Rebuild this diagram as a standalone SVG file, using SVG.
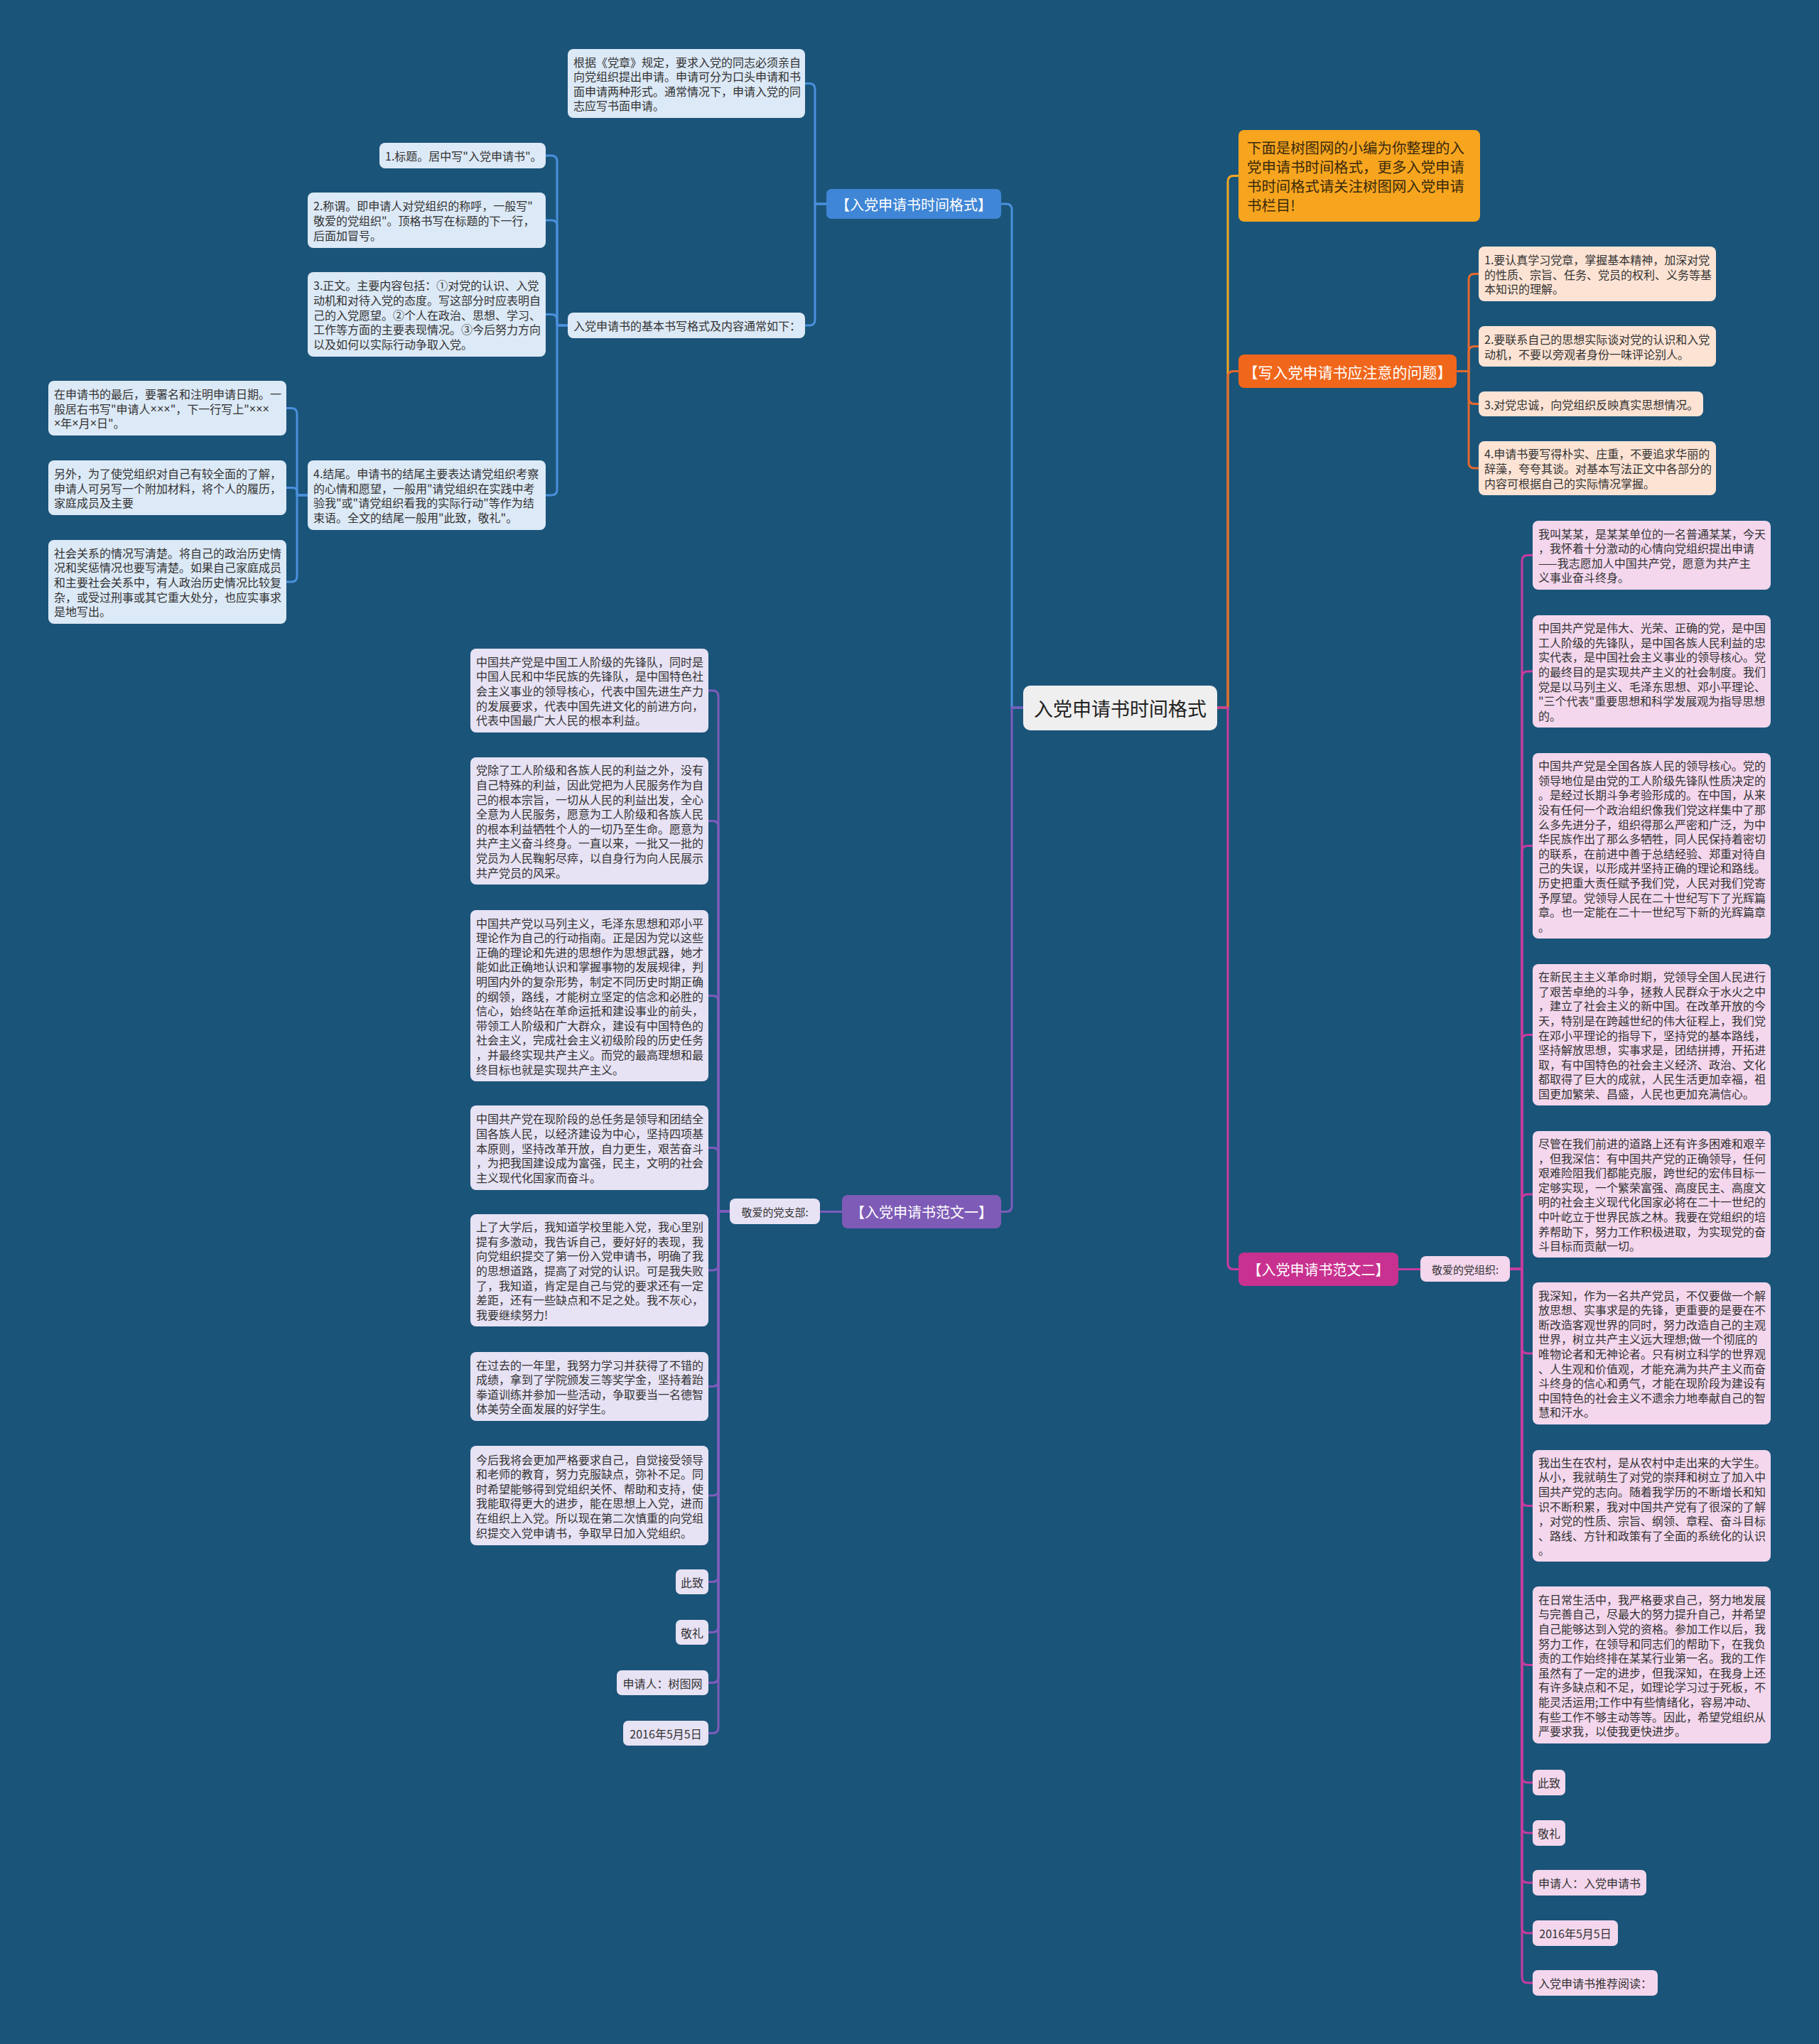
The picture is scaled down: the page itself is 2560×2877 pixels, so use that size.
<svg xmlns="http://www.w3.org/2000/svg" width="2560" height="2877" viewBox="0 0 2560 2877">
<style>
text{font-family:"Noto Sans CJK SC","Noto Sans",sans-serif;dominant-baseline:central}
.t{font-size:16px;fill:#333}
.x{font-family:"Liberation Sans","Noto Sans",sans-serif}
.lab{font-size:20px;fill:#fff;text-anchor:middle}
.sm{font-size:15px;fill:#333;text-anchor:middle}
.smc{font-size:16px;fill:#333;text-anchor:middle}
.bl{fill:#dce9f6}
.or{fill:#fde3d4}
.pk{fill:#f4d7ed}
.pu{fill:#e7e2f4}
.c{fill:none;stroke-width:3;stroke-linejoin:round}
.cb{stroke:#4a90dc}
.cpu{stroke:#7d5cbc}
.cpk{stroke:#c73c9d}
.cor{stroke:#e4692c}
.cy{stroke:#f2a623}
</style>
<rect x="0" y="0" width="2560" height="2877" fill="#1a5479"/>

<g id="connectors">
<path class="c cy" d="M1713 996 H1728 V255.5 Q1728 247.5 1736 247.5 H1743"/>
<path class="c cor" d="M1713 996 H1728 V530.5 Q1728 522.5 1736 522.5 H1743"/>
<path class="c cpk" d="M1713 996 H1728 V1778.5 Q1728 1786.5 1736 1786.5 H1743"/>
<path class="c cb" d="M1440 996 H1424 V295 Q1424 287 1416 287 H1409"/>
<path class="c cpu" d="M1440 996 H1424 V1697.5 Q1424 1705.5 1416 1705.5 H1409"/>

<path class="c cb" d="M1163 287 H1147 V125.5 Q1147 117.5 1139 117.5 H1133"/>
<path class="c cb" d="M1163 287 H1147 V450 Q1147 458 1139 458 H1133"/>
<path class="c cb" d="M799 458 H784 V227 Q784 219 776 219 H768"/>
<path class="c cb" d="M799 458 H784 V318 Q784 310 776 310 H768"/>
<path class="c cb" d="M799 458 H784 V450 Q784 442.5 776 442.5 H768"/>
<path class="c cb" d="M799 458 H784 V689 Q784 697 776 697 H768"/>
<path class="c cb" d="M433 697 H418 V582.5 Q418 574.5 410 574.5 H403"/>
<path class="c cb" d="M433 697 H418 V692.5 Q418 686.5 412 686.5 H403"/>
<path class="c cb" d="M433 697 H418 V811 Q418 819 410 819 H403"/>

<path class="c cor" d="M2050 522.5 H2067 V393.5 Q2067 385.5 2075 385.5 H2081"/>
<path class="c cor" d="M2050 522.5 H2067 V495.5 Q2067 487.5 2075 487.5 H2081"/>
<path class="c cor" d="M2050 522.5 H2067 V560.5 Q2067 568.5 2075 568.5 H2081"/>
<path class="c cor" d="M2050 522.5 H2067 V651 Q2067 659 2075 659 H2081"/>

<path class="c cpk" d="M1968 1786.5 H1999"/>
<path class="c cpk" d="M2125 1786 H2142 V789.5 Q2142 781.5 2150 781.5 H2157"/>
<path class="c cpk" d="M2125 1786 H2142 V953 Q2142 945 2150 945 H2157"/>
<path class="c cpk" d="M2125 1786 H2142 V1198.5 Q2142 1190.5 2150 1190.5 H2157"/>
<path class="c cpk" d="M2125 1786 H2142 V1464.5 Q2142 1456.5 2150 1456.5 H2157"/>
<path class="c cpk" d="M2125 1786 H2142 V1689 Q2142 1681 2150 1681 H2157"/>
<path class="c cpk" d="M2125 1786 H2142 V1897 Q2142 1905 2150 1905 H2157"/>
<path class="c cpk" d="M2125 1786 H2142 V2111.5 Q2142 2119.5 2150 2119.5 H2157"/>
<path class="c cpk" d="M2125 1786 H2142 V2335.5 Q2142 2343.5 2150 2343.5 H2157"/>
<path class="c cpk" d="M2125 1786 H2142 V2501 Q2142 2509 2150 2509 H2157"/>
<path class="c cpk" d="M2125 1786 H2142 V2572 Q2142 2580 2150 2580 H2157"/>
<path class="c cpk" d="M2125 1786 H2142 V2642 Q2142 2650 2150 2650 H2157"/>
<path class="c cpk" d="M2125 1786 H2142 V2713 Q2142 2721 2150 2721 H2157"/>
<path class="c cpk" d="M2125 1786 H2142 V2783 Q2142 2791 2150 2791 H2157"/>

<path class="c cpu" d="M1185 1705.5 H1154"/>
<path class="c cpu" d="M1027 1705 H1011 V980 Q1011 972 1003 972 H997"/>
<path class="c cpu" d="M1027 1705 H1011 V1163.5 Q1011 1155.5 1003 1155.5 H997"/>
<path class="c cpu" d="M1027 1705 H1011 V1409.5 Q1011 1401.5 1003 1401.5 H997"/>
<path class="c cpu" d="M1027 1705 H1011 V1623.5 Q1011 1615.5 1003 1615.5 H997"/>
<path class="c cpu" d="M1027 1705 H1011 V1780 Q1011 1788 1003 1788 H997"/>
<path class="c cpu" d="M1027 1705 H1011 V1943.5 Q1011 1951.5 1003 1951.5 H997"/>
<path class="c cpu" d="M1027 1705 H1011 V2097 Q1011 2105 1003 2105 H997"/>
<path class="c cpu" d="M1027 1705 H1011 V2218.5 Q1011 2226.5 1003 2226.5 H997"/>
<path class="c cpu" d="M1027 1705 H1011 V2289.5 Q1011 2297.5 1003 2297.5 H997"/>
<path class="c cpu" d="M1027 1705 H1011 V2360.5 Q1011 2368.5 1003 2368.5 H997"/>
<path class="c cpu" d="M1027 1705 H1011 V2431.5 Q1011 2439.5 1003 2439.5 H997"/>
</g>

<g id="center">
<rect x="1440" y="965" width="273" height="63" rx="10" fill="#efefef"/>
<text x="1576.5" y="996.5" style="font-size:27px;fill:#222;text-anchor:middle">入党申请书时间格式</text>
</g>

<!-- Blue branch -->
<g id="blue-label">
<rect x="1163" y="266" width="246" height="42" rx="7" fill="#3f86d6"/>
<text class="lab" x="1286" y="287">【入党申请书时间格式】</text>
</g>
<g id="b-top">
<rect class="bl" x="799" y="69" width="334" height="97" rx="8"/>
<text class="t"><tspan x="807" y="86.6">根据《党章》规定，要求入党的同志必须亲自</tspan><tspan x="807" y="107.2">向党组织提出申请。申请可分为口头申请和书</tspan><tspan x="807" y="127.8">面申请两种形式。通常情况下，申请入党的同</tspan><tspan x="807" y="148.4">志应写书面申请。</tspan></text>
</g>
<g id="b-format">
<rect class="bl" x="799" y="440" width="334" height="36" rx="8"/>
<text class="t" x="807" y="458">入党申请书的基本书写格式及内容通常如下：</text>
</g>
<g id="b1">
<rect class="bl" x="534" y="201" width="234" height="36" rx="8"/>
<text class="t" x="542" y="219">1.标题。居中写"入党申请书"。</text>
</g>
<g id="b2">
<rect class="bl" x="433" y="271" width="335" height="78" rx="8"/>
<text class="t"><tspan x="441" y="289.4">2.称谓。即申请人对党组织的称呼，一般写"</tspan><tspan x="441" y="310">敬爱的党组织"。顶格书写在标题的下一行，</tspan><tspan x="441" y="330.6">后面加冒号。</tspan></text>
</g>
<g id="b3">
<rect class="bl" x="433" y="383" width="335" height="119" rx="8"/>
<text class="t"><tspan x="441" y="401.3">3.正文。主要内容包括：①对党的认识、入党</tspan><tspan x="441" y="421.9">动机和对待入党的态度。写这部分时应表明自</tspan><tspan x="441" y="442.5">己的入党愿望。②个人在政治、思想、学习、</tspan><tspan x="441" y="463.1">工作等方面的主要表现情况。③今后努力方向</tspan><tspan x="441" y="483.7">以及如何以实际行动争取入党。</tspan></text>
</g>
<g id="b4">
<rect class="bl" x="433" y="648" width="335" height="98" rx="8"/>
<text class="t"><tspan x="441" y="666.1">4.结尾。申请书的结尾主要表达请党组织考察</tspan><tspan x="441" y="686.7">的心情和愿望，一般用"请党组织在实践中考</tspan><tspan x="441" y="707.3">验我"或"请党组织看我的实际行动"等作为结</tspan><tspan x="441" y="727.9">束语。全文的结尾一般用"此致，敬礼"。</tspan></text>
</g>
<g id="n1">
<rect class="bl" x="68" y="536" width="335" height="77" rx="8"/>
<text class="t"><tspan x="76" y="553.9">在申请书的最后，要署名和注明申请日期。一</tspan><tspan x="76" y="574.5">般居右书写"申请人<tspan class="x">×××</tspan>"，下一行写上"<tspan class="x">×××</tspan></tspan><tspan x="76" y="595.1"><tspan class="x">×</tspan>年<tspan class="x">×</tspan>月<tspan class="x">×</tspan>日"。</tspan></text>
</g>
<g id="n2">
<rect class="bl" x="68" y="648" width="335" height="77" rx="8"/>
<text class="t"><tspan x="76" y="665.9">另外，为了使党组织对自己有较全面的了解，</tspan><tspan x="76" y="686.5">申请人可另写一个附加材料，将个人的履历，</tspan><tspan x="76" y="707.1">家庭成员及主要</tspan></text>
</g>
<g id="n3">
<rect class="bl" x="68" y="760" width="335" height="118" rx="8"/>
<text class="t"><tspan x="76" y="777.8">社会关系的情况写清楚。将自己的政治历史情</tspan><tspan x="76" y="798.4">况和奖惩情况也要写清楚。如果自己家庭成员</tspan><tspan x="76" y="819">和主要社会关系中，有人政治历史情况比较复</tspan><tspan x="76" y="839.6">杂，或受过刑事或其它重大处分，也应实事求</tspan><tspan x="76" y="860.2">是地写出。</tspan></text>
</g>

<!-- Orange branch -->
<g id="o-top">
<rect x="1743" y="183" width="340" height="129" rx="8" fill="#f7a51f"/>
<text style="font-size:20.4px;fill:#3a2a0c"><tspan x="1755" y="207">下面是树图网的小编为你整理的入</tspan><tspan x="1755" y="234">党申请书时间格式，更多入党申请</tspan><tspan x="1755" y="261">书时间格式请关注树图网入党申请</tspan><tspan x="1755" y="288">书栏目!</tspan></text>
</g>
<g id="o-label">
<rect x="1743" y="499" width="307" height="47" rx="8" fill="#f0661a"/>
<text class="lab" x="1896.5" y="522.5" style="font-size:21px">【写入党申请书应注意的问题】</text>
</g>
<g id="c1">
<rect class="or" x="2081" y="347" width="334" height="77" rx="8"/>
<text class="t"><tspan x="2089" y="364.9">1.要认真学习党章，掌握基本精神，加深对党</tspan><tspan x="2089" y="385.5">的性质、宗旨、任务、党员的权利、义务等基</tspan><tspan x="2089" y="406.1">本知识的理解。</tspan></text>
</g>
<g id="c2">
<rect class="or" x="2081" y="459" width="334" height="57" rx="8"/>
<text class="t"><tspan x="2089" y="477.2">2.要联系自己的思想实际谈对党的认识和入党</tspan><tspan x="2089" y="497.8">动机，不要以旁观者身份一味评论别人。</tspan></text>
</g>
<g id="c3">
<rect class="or" x="2081" y="551" width="316" height="35" rx="8"/>
<text class="t" x="2089" y="568.5">3.对党忠诚，向党组织反映真实思想情况。</text>
</g>
<g id="c4">
<rect class="or" x="2081" y="621" width="334" height="76" rx="8"/>
<text class="t"><tspan x="2089" y="638.4">4.申请书要写得朴实、庄重，不要追求华丽的</tspan><tspan x="2089" y="659">辞藻，夸夸其谈。对基本写法正文中各部分的</tspan><tspan x="2089" y="679.6">内容可根据自己的实际情况掌握。</tspan></text>
</g>

<!-- Purple branch -->
<g id="pu-label">
<rect x="1185" y="1682" width="224" height="47" rx="8" fill="#7e5bb6"/>
<text class="lab" x="1297" y="1705.5">【入党申请书范文一】</text>
</g>
<g id="pu-greet">
<rect class="pu" x="1027" y="1687" width="127" height="36" rx="8"/>
<text class="sm" x="1090.5" y="1705">敬爱的党支部:</text>
</g>
<g id="l1">
<rect class="pu" x="662" y="913" width="335" height="118" rx="8"/>
<text class="t"><tspan x="670" y="930.8">中国共产党是中国工人阶级的先锋队，同时是</tspan><tspan x="670" y="951.4">中国人民和中华民族的先锋队，是中国特色社</tspan><tspan x="670" y="972">会主义事业的领导核心，代表中国先进生产力</tspan><tspan x="670" y="992.6">的发展要求，代表中国先进文化的前进方向，</tspan><tspan x="670" y="1013.2">代表中国最广大人民的根本利益。</tspan></text>
</g>
<g id="l2">
<rect class="pu" x="662" y="1066" width="335" height="179" rx="8"/>
<text class="t"><tspan x="670" y="1083.4">党除了工人阶级和各族人民的利益之外，没有</tspan><tspan x="670" y="1104">自己特殊的利益，因此党把为人民服务作为自</tspan><tspan x="670" y="1124.6">己的根本宗旨，一切从人民的利益出发，全心</tspan><tspan x="670" y="1145.2">全意为人民服务，愿意为工人阶级和各族人民</tspan><tspan x="670" y="1165.8">的根本利益牺牲个人的一切乃至生命。愿意为</tspan><tspan x="670" y="1186.4">共产主义奋斗终身。一直以来，一批又一批的</tspan><tspan x="670" y="1207">党员为人民鞠躬尽瘁，以自身行为向人民展示</tspan><tspan x="670" y="1227.6">共产党员的风采。</tspan></text>
</g>
<g id="l3">
<rect class="pu" x="662" y="1281" width="335" height="241" rx="8"/>
<text class="t"><tspan x="670" y="1298.5">中国共产党以马列主义，毛泽东思想和邓小平</tspan><tspan x="670" y="1319.1">理论作为自己的行动指南。正是因为党以这些</tspan><tspan x="670" y="1339.7">正确的理论和先进的思想作为思想武器，她才</tspan><tspan x="670" y="1360.3">能如此正确地认识和掌握事物的发展规律，判</tspan><tspan x="670" y="1380.9">明国内外的复杂形势，制定不同历史时期正确</tspan><tspan x="670" y="1401.5">的纲领，路线，才能树立坚定的信念和必胜的</tspan><tspan x="670" y="1422.1">信心，始终站在革命运抵和建设事业的前头，</tspan><tspan x="670" y="1442.7">带领工人阶级和广大群众，建设有中国特色的</tspan><tspan x="670" y="1463.3">社会主义，完成社会主义初级阶段的历史任务</tspan><tspan x="670" y="1483.9">，并最终实现共产主义。而党的最高理想和最</tspan><tspan x="670" y="1504.5">终目标也就是实现共产主义。</tspan></text>
</g>
<g id="l4">
<rect class="pu" x="662" y="1556" width="335" height="119" rx="8"/>
<text class="t"><tspan x="670" y="1574.3">中国共产党在现阶段的总任务是领导和团结全</tspan><tspan x="670" y="1594.9">国各族人民，以经济建设为中心，坚持四项基</tspan><tspan x="670" y="1615.5">本原则，坚持改革开放，自力更生，艰苦奋斗</tspan><tspan x="670" y="1636.1">，为把我国建设成为富强，民主，文明的社会</tspan><tspan x="670" y="1656.7">主义现代化国家而奋斗。</tspan></text>
</g>
<g id="l5">
<rect class="pu" x="662" y="1709" width="335" height="158" rx="8"/>
<text class="t"><tspan x="670" y="1726.2">上了大学后，我知道学校里能入党，我心里别</tspan><tspan x="670" y="1746.8">提有多激动，我告诉自己，要好好的表现，我</tspan><tspan x="670" y="1767.4">向党组织提交了第一份入党申请书，明确了我</tspan><tspan x="670" y="1788">的思想道路，提高了对党的认识。可是我失败</tspan><tspan x="670" y="1808.6">了，我知道，肯定是自己与党的要求还有一定</tspan><tspan x="670" y="1829.2">差距，还有一些缺点和不足之处。我不灰心，</tspan><tspan x="670" y="1849.8">我要继续努力!</tspan></text>
</g>
<g id="l6">
<rect class="pu" x="662" y="1903" width="335" height="97" rx="8"/>
<text class="t"><tspan x="670" y="1920.6">在过去的一年里，我努力学习并获得了不错的</tspan><tspan x="670" y="1941.2">成绩，拿到了学院颁发三等奖学金，坚持着跆</tspan><tspan x="670" y="1961.8">拳道训练并参加一些活动，争取要当一名德智</tspan><tspan x="670" y="1982.4">体美劳全面发展的好学生。</tspan></text>
</g>
<g id="l7">
<rect class="pu" x="662" y="2035" width="335" height="140" rx="8"/>
<text class="t"><tspan x="670" y="2053.5">今后我将会更加严格要求自己，自觉接受领导</tspan><tspan x="670" y="2074.1">和老师的教育，努力克服缺点，弥补不足。同</tspan><tspan x="670" y="2094.7">时希望能够得到党组织关怀、帮助和支持，使</tspan><tspan x="670" y="2115.3">我能取得更大的进步，能在思想上入党，进而</tspan><tspan x="670" y="2135.9">在组织上入党。所以现在第二次慎重的向党组</tspan><tspan x="670" y="2156.5">织提交入党申请书，争取早日加入党组织。</tspan></text>
</g>
<g id="l8"><rect class="pu" x="951" y="2209" width="46" height="35" rx="7"/><text class="smc" x="974" y="2226.5">此致</text></g>
<g id="l9"><rect class="pu" x="951" y="2280" width="46" height="35" rx="7"/><text class="smc" x="974" y="2297.5">敬礼</text></g>
<g id="l10"><rect class="pu" x="868" y="2351" width="129" height="35" rx="7"/><text class="smc" x="932.5" y="2368.5">申请人：树图网</text></g>
<g id="l11"><rect class="pu" x="877" y="2422" width="120" height="35" rx="7"/><text class="smc" x="937" y="2439.5">2016年5月5日</text></g>

<!-- Pink branch -->
<g id="pk-label">
<rect x="1743" y="1763" width="225" height="47" rx="8" fill="#c8318f"/>
<text class="lab" x="1855.5" y="1786.5">【入党申请书范文二】</text>
</g>
<g id="pk-greet">
<rect class="pk" x="1999" y="1768" width="126" height="36" rx="8"/>
<text class="sm" x="2062" y="1786">敬爱的党组织:</text>
</g>
<g id="p1">
<rect class="pk" x="2157" y="733" width="335" height="97" rx="8"/>
<text class="t"><tspan x="2165" y="750.6">我叫某某，是某某单位的一名普通某某，今天</tspan><tspan x="2165" y="771.2">，我怀着十分激动的心情向党组织提出申请</tspan><tspan x="2165" y="791.8">——我志愿加人中国共产党，愿意为共产主</tspan><tspan x="2165" y="812.4">义事业奋斗终身。</tspan></text>
</g>
<g id="p2">
<rect class="pk" x="2157" y="866" width="335" height="158" rx="8"/>
<text class="t"><tspan x="2165" y="883.2">中国共产党是伟大、光荣、正确的党，是中国</tspan><tspan x="2165" y="903.8">工人阶级的先锋队，是中国各族人民利益的忠</tspan><tspan x="2165" y="924.4">实代表，是中国社会主义事业的领导核心。党</tspan><tspan x="2165" y="945">的最终目的是实现共产主义的社会制度。我们</tspan><tspan x="2165" y="965.6">党是以马列主义、毛泽东思想、邓小平理论、</tspan><tspan x="2165" y="986.2">"三个代表"重要思想和科学发展观为指导思想</tspan><tspan x="2165" y="1006.8">的。</tspan></text>
</g>
<g id="p3">
<rect class="pk" x="2157" y="1060" width="335" height="261" rx="8"/>
<text class="t"><tspan x="2165" y="1077.2">中国共产党是全国各族人民的领导核心。党的</tspan><tspan x="2165" y="1097.8">领导地位是由党的工人阶级先锋队性质决定的</tspan><tspan x="2165" y="1118.4">。是经过长期斗争考验形成的。在中国，从来</tspan><tspan x="2165" y="1139">没有任何一个政治组织像我们党这样集中了那</tspan><tspan x="2165" y="1159.6">么多先进分子，组织得那么严密和广泛，为中</tspan><tspan x="2165" y="1180.2">华民族作出了那么多牺牲，同人民保持着密切</tspan><tspan x="2165" y="1200.8">的联系，在前进中善于总结经验、郑重对待自</tspan><tspan x="2165" y="1221.4">己的失误，以形成并坚持正确的理论和路线。</tspan><tspan x="2165" y="1242">历史把重大责任赋予我们党，人民对我们党寄</tspan><tspan x="2165" y="1262.6">予厚望。党领导人民在二十世纪写下了光辉篇</tspan><tspan x="2165" y="1283.2">章。也一定能在二十一世纪写下新的光辉篇章</tspan><tspan x="2165" y="1303.8">。</tspan></text>
</g>
<g id="p4">
<rect class="pk" x="2157" y="1357" width="335" height="199" rx="8"/>
<text class="t"><tspan x="2165" y="1374.1">在新民主主义革命时期，党领导全国人民进行</tspan><tspan x="2165" y="1394.7">了艰苦卓绝的斗争，拯救人民群众于水火之中</tspan><tspan x="2165" y="1415.3">，建立了社会主义的新中国。在改革开放的今</tspan><tspan x="2165" y="1435.9">天，特别是在跨越世纪的伟大征程上，我们党</tspan><tspan x="2165" y="1456.5">在邓小平理论的指导下，坚持党的基本路线，</tspan><tspan x="2165" y="1477.1">坚持解放思想，实事求是，团结拼搏，开拓进</tspan><tspan x="2165" y="1497.7">取，有中国特色的社会主义经济、政治、文化</tspan><tspan x="2165" y="1518.3">都取得了巨大的成就，人民生活更加幸福，祖</tspan><tspan x="2165" y="1538.9">国更加繁荣、昌盛，人民也更加充满信心。</tspan></text>
</g>
<g id="p5">
<rect class="pk" x="2157" y="1592" width="335" height="178" rx="8"/>
<text class="t"><tspan x="2165" y="1608.9">尽管在我们前进的道路上还有许多困难和艰辛</tspan><tspan x="2165" y="1629.5">，但我深信：有中国共产党的正确领导，任何</tspan><tspan x="2165" y="1650.1">艰难险阻我们都能克服，跨世纪的宏伟目标一</tspan><tspan x="2165" y="1670.7">定够实现，一个繁荣富强、高度民主、高度文</tspan><tspan x="2165" y="1691.3">明的社会主义现代化国家必将在二十一世纪的</tspan><tspan x="2165" y="1711.9">中叶屹立于世界民族之林。我要在党组织的培</tspan><tspan x="2165" y="1732.5">养帮助下，努力工作积极进取，为实现党的奋</tspan><tspan x="2165" y="1753.1">斗目标而贡献一切。</tspan></text>
</g>
<g id="p6">
<rect class="pk" x="2157" y="1805" width="335" height="200" rx="8"/>
<text class="t"><tspan x="2165" y="1822.6">我深知，作为一名共产党员，不仅要做一个解</tspan><tspan x="2165" y="1843.2">放思想、实事求是的先锋，更重要的是要在不</tspan><tspan x="2165" y="1863.8">断改造客观世界的同时，努力改造自己的主观</tspan><tspan x="2165" y="1884.4">世界，树立共产主义远大理想;做一个彻底的</tspan><tspan x="2165" y="1905">唯物论者和无神论者。只有树立科学的世界观</tspan><tspan x="2165" y="1925.6">、人生观和价值观，才能充满为共产主义而奋</tspan><tspan x="2165" y="1946.2">斗终身的信心和勇气，才能在现阶段为建设有</tspan><tspan x="2165" y="1966.8">中国特色的社会主义不遗余力地奉献自己的智</tspan><tspan x="2165" y="1987.4">慧和汗水。</tspan></text>
</g>
<g id="p7">
<rect class="pk" x="2157" y="2041" width="335" height="157" rx="8"/>
<text class="t"><tspan x="2165" y="2057.7">我出生在农村，是从农村中走出来的大学生。</tspan><tspan x="2165" y="2078.3">从小，我就萌生了对党的崇拜和树立了加入中</tspan><tspan x="2165" y="2098.9">国共产党的志向。随着我学历的不断增长和知</tspan><tspan x="2165" y="2119.5">识不断积累，我对中国共产党有了很深的了解</tspan><tspan x="2165" y="2140.1">，对党的性质、宗旨、纲领、章程、奋斗目标</tspan><tspan x="2165" y="2160.7">、路线、方针和政策有了全面的系统化的认识</tspan><tspan x="2165" y="2181.3">。</tspan></text>
</g>
<g id="p8">
<rect class="pk" x="2157" y="2233" width="335" height="221" rx="8"/>
<text class="t"><tspan x="2165" y="2250.8">在日常生活中，我严格要求自己，努力地发展</tspan><tspan x="2165" y="2271.4">与完善自己，尽最大的努力提升自己，并希望</tspan><tspan x="2165" y="2292">自己能够达到入党的资格。参加工作以后，我</tspan><tspan x="2165" y="2312.6">努力工作，在领导和同志们的帮助下，在我负</tspan><tspan x="2165" y="2333.2">责的工作始终排在某某行业第一名。我的工作</tspan><tspan x="2165" y="2353.8">虽然有了一定的进步，但我深知，在我身上还</tspan><tspan x="2165" y="2374.4">有许多缺点和不足，如理论学习过于死板，不</tspan><tspan x="2165" y="2395">能灵活运用;工作中有些情绪化，容易冲动、</tspan><tspan x="2165" y="2415.6">有些工作不够主动等等。因此，希望党组织从</tspan><tspan x="2165" y="2436.2">严要求我，以使我更快进步。</tspan></text>
</g>
<g id="p9"><rect class="pk" x="2157" y="2491" width="46" height="36" rx="7"/><text class="smc" x="2180" y="2509">此致</text></g>
<g id="p10"><rect class="pk" x="2157" y="2562" width="46" height="36" rx="7"/><text class="smc" x="2180" y="2580">敬礼</text></g>
<g id="p11"><rect class="pk" x="2157" y="2632" width="160" height="36" rx="7"/><text class="smc" x="2237" y="2650">申请人：入党申请书</text></g>
<g id="p12"><rect class="pk" x="2157" y="2703" width="120" height="36" rx="7"/><text class="smc" x="2217" y="2721">2016年5月5日</text></g>
<g id="p13"><rect class="pk" x="2157" y="2773" width="176" height="36" rx="7"/><text class="smc" x="2245" y="2791">入党申请书推荐阅读：</text></g>
</svg>
